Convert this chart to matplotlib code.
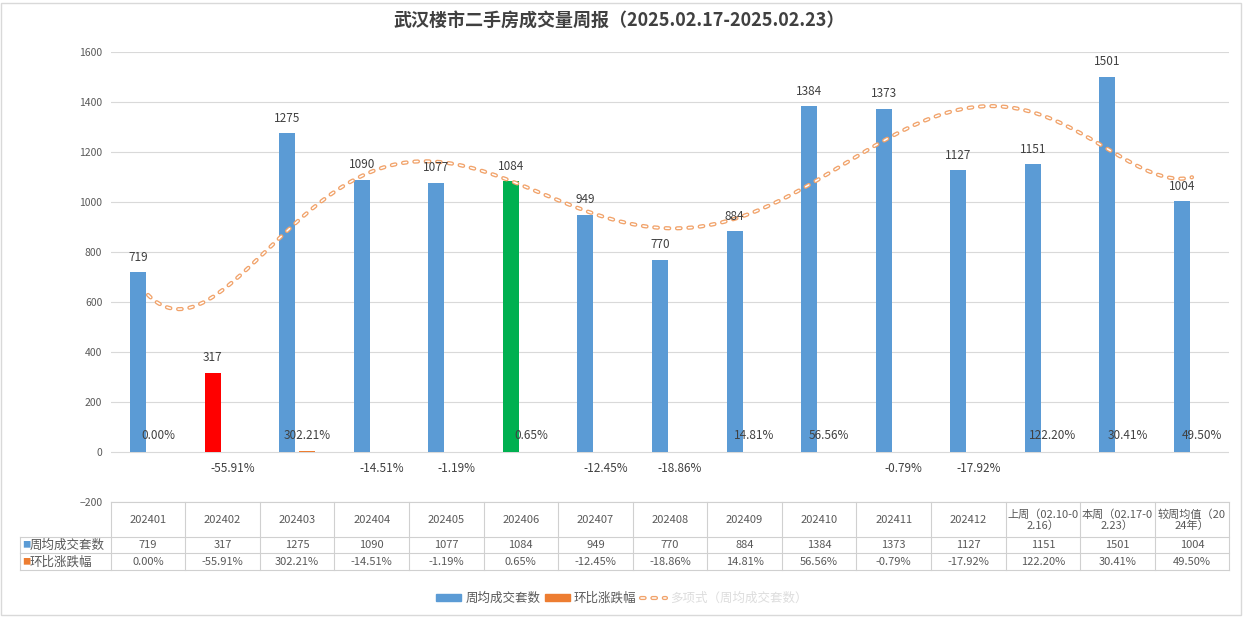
import numpy as np
import matplotlib
matplotlib.use("Agg")
import matplotlib.pyplot as plt
import matplotlib.transforms as mtransforms
from matplotlib.patches import Patch, Rectangle
from matplotlib.lines import Line2D
from matplotlib.legend_handler import HandlerTuple

plt.rcParams['font.family'] = ['Noto Sans CJK SC', 'DejaVu Sans']
plt.rcParams['lines.scale_dashes'] = False

# 数据
periods = ['202401', '202402', '202403', '202404', '202405', '202406', '202407',
           '202408', '202409', '202410', '202411', '202412',
           '上周（02.10-0\n2.16）', '本周（02.17-0\n2.23）', '较周均值（20\n24年）']
weekly = [719, 317, 1275, 1090, 1077, 1084, 949, 770, 884, 1384, 1373, 1127, 1151, 1501, 1004]
change = [0.00, -55.91, 302.21, -14.51, -1.19, 0.65, -12.45, -18.86, 14.81, 56.56,
          -0.79, -17.92, 122.20, 30.41, 49.50]
special = {1: '#FF0000', 5: '#00B050'}   # 202402 红色, 202406 绿色

BLUE = '#5B9BD5'
ORANGE = '#ED7D31'
TREND = '#F1A36B'
TXT = '#595959'
W, H = 1244, 618

fig = plt.figure(figsize=(W / 100, H / 100), dpi=100)
ax = fig.add_axes([110.7 / W, 1 - 502 / H, (1229.3 - 110.7) / W, (502 - 52) / H])

x = np.arange(1, len(weekly) + 1)
colors = [special.get(i, BLUE) for i in range(len(weekly))]
ax.bar(x - 0.134, weekly, width=0.215, color=colors, zorder=3)
pct = np.array(change) / 100
ax.bar(x + 0.134, pct, width=0.215, color=ORANGE, zorder=3)

# 多项式趋势线 (6阶)
coef = np.polyfit(x, weekly, 6)
xs = np.linspace(1, 15, 400)
ys = np.polyval(coef, xs)
dash = (2.6, 5.6)
ax.plot(xs, ys, color=TREND, lw=3.0, dashes=dash, dash_capstyle='round', zorder=4)
ax.plot(xs, ys, color='white', lw=1.1, dashes=dash, dash_capstyle='round', zorder=5)

# 标签
for xi, v in zip(x, weekly):
    ax.annotate(str(v), (xi - 0.134, v), xytext=(0, 6), textcoords='offset points',
                ha='center', va='bottom', fontsize=8.5, color='#404040', zorder=6)
for xi, v in zip(x, change):
    off = 12 if v >= 0 else -12
    ax.annotate('%.2f%%' % v, (xi + 0.134, 0), xytext=(0, off), textcoords='offset points',
                ha='center', va='center', fontsize=8.5, color='#404040', zorder=6)

ax.set_xlim(0.5, 15.5)
ax.set_ylim(-200, 1600)
ax.set_yticks(range(-200, 1601, 200))
ax.tick_params(axis='y', length=0, labelsize=7.5, labelcolor=TXT, pad=6)
ax.set_xticks([])
ax.grid(axis='y', color='#D9D9D9', lw=0.8, zorder=0)
for s in ax.spines.values():
    s.set_visible(False)

# 数据表
tr = mtransforms.blended_transform_factory(ax.transData, fig.transFigure)
fy = lambda p: 1 - p / H
lc = '#D0D0D0'
fig.add_artist(Line2D([110.7 / W, 1229.3 / W], [fy(502), fy(502)], color=lc, lw=0.8))
for yy in [537, 553, 570]:
    fig.add_artist(Line2D([20 / W, 1229.3 / W], [fy(yy), fy(yy)], color=lc, lw=0.8))
for b in np.arange(0.5, 15.6, 1):
    fig.add_artist(Line2D([b, b], [fy(502), fy(570)], color=lc, lw=0.8, transform=tr))
fig.add_artist(Line2D([20 / W, 20 / W], [fy(537), fy(570)], color=lc, lw=0.8))

for xi, p, v, c in zip(x, periods, weekly, change):
    fig.text(xi, fy(520), p, transform=tr, ha='center', va='center', fontsize=8,
             color=TXT, linespacing=1.0)
    fig.text(xi, fy(545), str(v), transform=tr, ha='center', va='center', fontsize=8, color=TXT)
    fig.text(xi, fy(562), '%.2f%%' % c, transform=tr, ha='center', va='center', fontsize=8, color=TXT)

fig.text(22 / W, fy(545), '■', ha='left', va='center', fontsize=6, color=BLUE)
fig.text(30 / W, fy(545), '周均成交套数', ha='left', va='center', fontsize=9, color=TXT)
fig.text(22 / W, fy(562), '■', ha='left', va='center', fontsize=6, color=ORANGE)
fig.text(30 / W, fy(562), '环比涨跌幅', ha='left', va='center', fontsize=9, color=TXT)

# 标题
fig.text(619 / W, fy(21), '武汉楼市二手房成交量周报（2025.02.17-2025.02.23）',
         ha='center', va='center', fontsize=13, fontweight='bold', color='#404040')

# 图例
trend_h = (Line2D([], [], color=TREND, lw=3.0, dashes=dash, dash_capstyle='round'),
           Line2D([], [], color='white', lw=1.1, dashes=dash, dash_capstyle='round'))
handles = [Patch(color=BLUE), Patch(color=ORANGE), trend_h]
labels = ['周均成交套数', '环比涨跌幅', '多项式（周均成交套数）']
leg = fig.legend(handles, labels, loc='center', bbox_to_anchor=(622 / W, fy(598)), ncol=3,
                 frameon=False, fontsize=9, handlelength=2.0, handleheight=0.5,
                 columnspacing=0.4, handletextpad=0.3,
                 handler_map={tuple: HandlerTuple(ndivide=1)})
for t in leg.get_texts():
    t.set_color(TXT)
leg.get_texts()[2].set_color('#DDDDDD')

# 外框
fig.add_artist(Rectangle((1 / W, 3 / H), 1240 / W, 612 / H, fill=False, ec='#D9D9D9', lw=1,
                         transform=fig.transFigure))

fig.savefig('out.png', dpi=100)
